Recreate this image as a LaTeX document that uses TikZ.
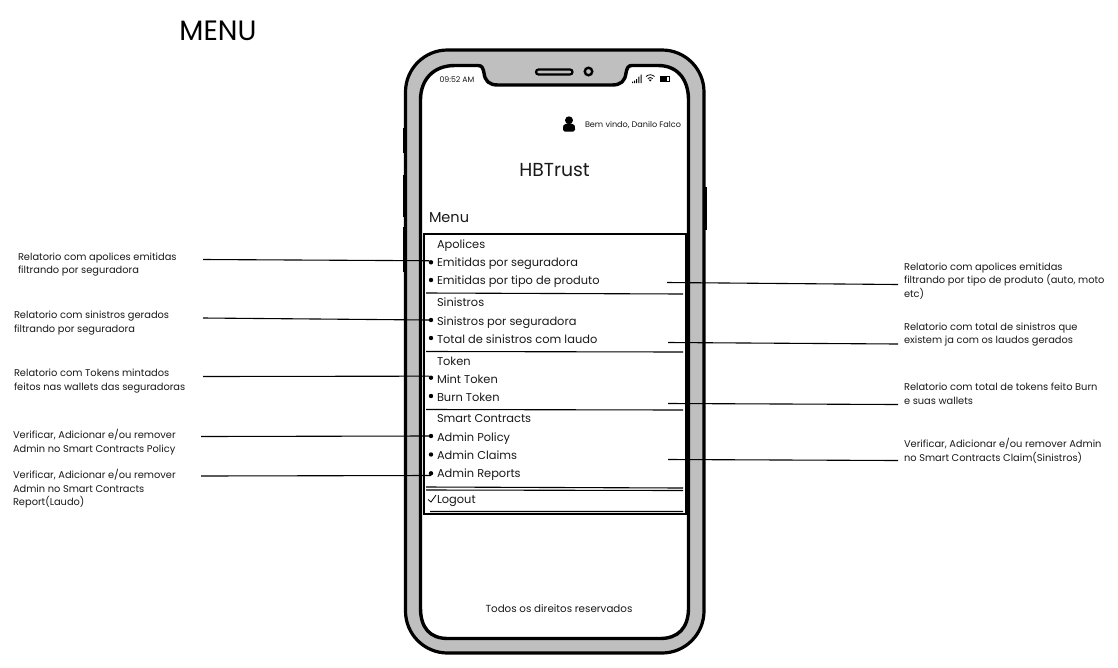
\documentclass[tikz,border=0pt]{standalone}
\usepackage{fontspec}
\setmainfont{Poppins}
\begin{document}
\begin{tikzpicture}[x=1pt,y=-1pt,
  every node/.style={inner sep=0pt,outer sep=0pt,text=black!90},
  note/.style={font=\fontsize{9.85}{13.5}\selectfont,anchor=north west,align=left},
  item/.style={font=\fontsize{11.4}{13}\selectfont,anchor=base west},
  status/.style={font=\fontsize{7.8}{9}\selectfont},
  dotb/.style={circle,fill=black,minimum size=4.4pt},
  leader/.style={draw=black,line width=1.1pt},
  rule/.style={draw=black,line width=1.1pt},
  shell/.style={draw=black,line width=3.2pt,fill=black!25},
  screen/.style={draw=black,line width=3.4pt,fill=white},
  btn/.style={draw=black,line width=3pt}]
\useasboundingbox (0,0) rectangle (1118,667);
\fill[white] (0,0) rectangle (1118,667);
% side buttons
\draw[btn] (404,128) -- (404,153);
\draw[btn] (404,175) -- (404,217);
\draw[btn] (404,227) -- (404,272);
\draw[btn] (705.5,187) -- (705.5,230);
% shell
\draw[shell,rounded corners=42pt] (405.5,50) rectangle (704,653);
% screen
\draw[screen] (455,65.5) -- (478,65.5) .. controls (482,65.5) and (483,68) .. (484,73)
  .. controls (485,81) and (489,85) .. (498,85) -- (612,85)
  .. controls (621,85) and (625,81) .. (626,73)
  .. controls (627,68) and (628,65.5) .. (632,65.5) -- (658,65.5)
  .. controls (678,65.5) and (688.5,80) .. (688.5,100) -- (688.5,608)
  .. controls (688.5,628) and (678,638.5) .. (660,638.5) -- (448,638.5)
  .. controls (430,638.5) and (420.5,628) .. (420.5,608) -- (420.5,100)
  .. controls (420.5,80) and (433,65.5) .. (455,65.5) -- cycle;
% speaker + camera
\draw[draw=black,line width=2.2pt,rounded corners=2.5pt] (536,69.5) rectangle (572.5,74.5);
\node[circle,draw=black,line width=2.4pt,minimum size=7.5pt] (cam) at (588.5,71.5) {};
% status bar
\node[status] (time) at (457,80) {09:52 AM};
\fill[black] (632,81.5) rectangle (633,83) (634,80.5) rectangle (635,83) (636,79) rectangle (637,83) (638.3,76.5) rectangle (639.3,83) (640.6,74.5) rectangle (641.6,83);
\draw[line width=.8pt] (646,76.5) .. controls (648.5,74.2) and (652,74.2) .. (654.5,76.5);
\draw[line width=.8pt] (647.8,78.5) .. controls (649.3,77.2) and (651.2,77.2) .. (652.7,78.5);
\fill[black] (650.2,81.5) -- (648.7,79.7) -- (651.7,79.7) -- cycle;
\draw[line width=.7pt] (660,76.5) rectangle (669.5,81);
\fill[black] (660,76.5) rectangle (667,81);
% header
\fill[black] (569,120.3) circle (4pt);
\fill[black,rounded corners=1.6pt] (563,131.5) -- (563,127) .. controls (564,123) and (574,123) .. (575,127) -- (575,131.5) -- cycle;
\node[font=\fontsize{8.1}{9}\selectfont,anchor=west] (user) at (585,125) {Bem vindo, Danilo Falco};
\node[font=\fontsize{18.8}{22}\selectfont] (brand) at (554.5,170.5) {HBTrust};
\node[font=\fontsize{14.5}{17}\selectfont,anchor=west] (menu) at (429,218) {Menu};
\node[font=\fontsize{28}{32}\selectfont,text=black] (title) at (218,30.5) {MENU};
\node[font=\fontsize{10.3}{12}\selectfont] (foot) at (559,609) {Todos os direitos reservados};
% menu box
\draw[draw=black,line width=1.1pt] (424,234) rectangle (686,514);
\coordinate (r1a) at (426,293); \coordinate (r1b) at (683,294);
\coordinate (r2a) at (426,351.5); \coordinate (r2b) at (683,352);
\coordinate (r3a) at (426,409.5); \coordinate (r3b) at (683,410);
\coordinate (r4a) at (426,487); \coordinate (r4b) at (683,488);
\coordinate (r5a) at (426,490); \coordinate (r5b) at (683,490.5);
\coordinate (r6a) at (430,511.5); \coordinate (r6b) at (683,511.5);
\draw[rule] (r1a)--(r1b) (r2a)--(r2b) (r3a)--(r3b) (r4a)--(r4b) (r5a)--(r5b) (r6a)--(r6b);
% items
\node[item] (h1) at (437,248) {Apolices};
\node[item] (i1) at (437,266.7) {Emitidas por seguradora};
\node[item] (i2) at (437,284.7) {Emitidas por tipo de produto};
\node[item] (h2) at (437,306.5) {Sinistros};
\node[item] (i3) at (437,325) {Sinistros por seguradora};
\node[item] (i4) at (437,343) {Total de sinistros com laudo};
\node[item] (h3) at (437,365) {Token};
\node[item] (i5) at (437,383) {Mint Token};
\node[item] (i6) at (437,401) {Burn Token};
\node[item] (h4) at (437,422.5) {Smart Contracts};
\node[item] (i7) at (437,441) {Admin Policy};
\node[item] (i8) at (437,459) {Admin Claims};
\node[item] (i9) at (437,477.5) {Admin Reports};
\node[item] (i10) at (437,503) {Logout};
\node[dotb] (d1) at (431,262.3) {};
\node[dotb] (d2) at (431,280) {};
\node[dotb] (d3) at (431,320) {};
\node[dotb] (d4) at (431,338) {};
\node[dotb] (d5) at (431,377.7) {};
\node[dotb] (d6) at (431,396) {};
\node[dotb] (d7) at (431,436) {};
\node[dotb] (d8) at (431,454.5) {};
\node[dotb] (d9) at (431,473.3) {};
\draw[line width=.8pt] (428,499.5) -- (431,502) -- (436,495);
% left notes
\node[note] (n1) at (18,252.7) {Relatorio com apolices emitidas\\filtrando por seguradora};
\node[note] (n2) at (14,311) {Relatorio com sinistros gerados\\filtrando por seguradora};
\node[note] (n3) at (14,369.3) {Relatorio com Tokens mintados\\feitos nas wallets das seguradoras};
\node[note] (n4) at (13,429.3) {Verificar, Adicionar e/ou remover\\Admin no Smart Contracts Policy};
\node[note] (n5) at (13,469.3) {Verificar, Adicionar e/ou remover\\Admin no Smart Contracts\\Report(Laudo)};
% right notes
\node[note] (m1) at (904,262.7) {Relatorio com apolices emitidas\\filtrando por tipo de produto (auto, moto\\etc)};
\node[note] (m2) at (904,322.7) {Relatorio com total de sinistros que\\existem ja com os laudos gerados};
\node[note] (m3) at (904,383.3) {Relatorio com total de tokens feito Burn\\e suas wallets};
\node[note] (m4) at (904,438.7) {Verificar, Adicionar e/ou remover Admin\\no Smart Contracts Claim(Sinistros)};
% leaders
\coordinate (a1) at (203,259.5); \coordinate (a2) at (203,318); \coordinate (a3) at (203,376.5);
\coordinate (a4) at (201,436.5); \coordinate (a5) at (201,476);
\draw[leader] (a1) -- (d1.north west);
\draw[leader] (a2) -- (d3.west);
\draw[leader] (a3) -- (d5.north west);
\draw[leader] (a4) -- (d7.west);
\draw[leader] (a5) -- (d9.south);
\coordinate (b1) at (667,282.5); \coordinate (b2) at (668,342.5); \coordinate (b3) at (668,403.5); \coordinate (b4) at (668,459.5);
\coordinate (c1) at (898,284.5); \coordinate (c2) at (898,344); \coordinate (c3) at (898,404.5); \coordinate (c4) at (898,460.5);
\draw[leader] (b1) -- (c1);
\draw[leader] (b2) -- (c2);
\draw[leader] (b3) -- (c3);
\draw[leader] (b4) -- (c4);
\end{tikzpicture}
\end{document}
